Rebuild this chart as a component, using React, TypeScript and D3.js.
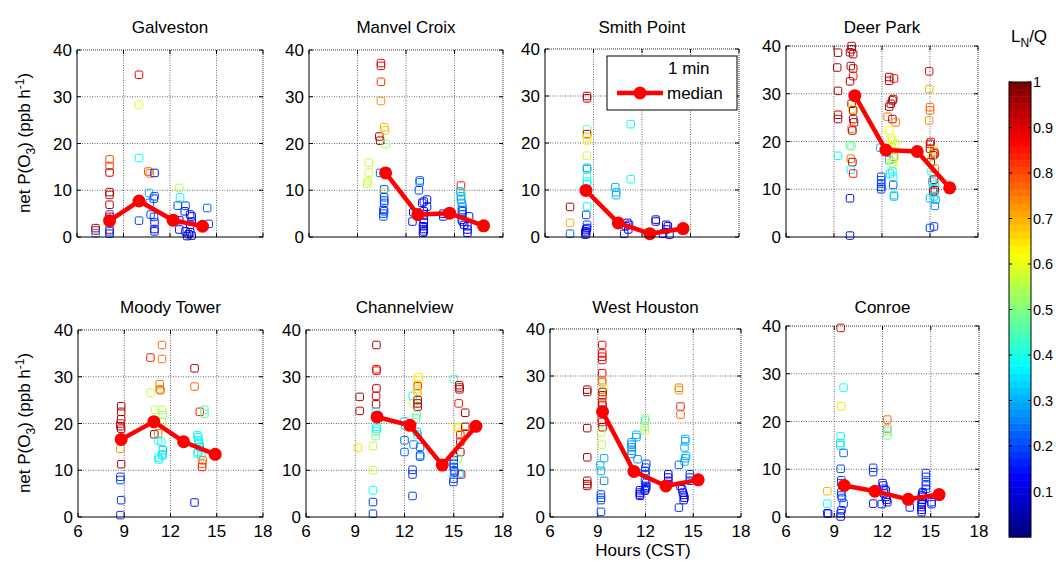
import React from "react";
import * as d3 from "d3";

// ---------- DATA ----------
const siteNames = ["Galveston", "Manvel Croix", "Smith Point", "Deer Park", "Moody Tower", "Channelview", "West Houston", "Conroe"];
const xTickValues = [6, 9, 12, 15, 18];
const yTickValues = [0, 10, 20, 30, 40];
const colorbarTicks = [0.1, 0.2, 0.3, 0.4, 0.5, 0.6, 0.7, 0.8, 0.9, 1];
const colorbarTickLabels = ["0.1", "0.2", "0.3", "0.4", "0.5", "0.6", "0.7", "0.8", "0.9", "1"];
const legendLabels = ["1 min", "median"];

// [hour, netPO3, LN/Q]
const galvestonPts = [
  [7.2, 1.9, 0.95], [7.2, 1.4, 0.95], [7.2, 0.8, 0.25],
  [8.1, 16.6, 0.8], [8.1, 15.2, 0.82], [8.1, 13.8, 0.95], [8.1, 9.6, 0.95], [8.1, 9.0, 0.95], [8.1, 6.9, 0.95], [8.1, 4.8, 0.2], [8.1, 4.3, 0.95], [8.1, 3.3, 0.65], [8.1, 1.6, 0.95], [8.1, 1.2, 0.2], [8.1, 0.7, 0.15],
  [10.0, 34.7, 0.88], [10.0, 28.3, 0.58], [10.0, 16.9, 0.38], [10.0, 3.5, 0.2],
  [10.6, 14.0, 0.8], [10.7, 13.6, 0.76], [11.0, 13.7, 0.15], [10.65, 9.4, 0.32], [11.0, 8.7, 0.2], [10.95, 8.2, 0.2], [10.7, 7.3, 0.22], [10.75, 4.8, 0.2], [10.97, 4.3, 0.2], [11.0, 3.1, 0.15], [11.0, 1.7, 0.15], [11.0, 1.2, 0.15],
  [12.6, 10.5, 0.55], [12.65, 8.5, 0.38], [12.5, 6.7, 0.2], [13.0, 6.7, 0.2], [12.95, 5.5, 0.15], [13.3, 4.8, 0.1], [13.4, 4.4, 0.1], [12.6, 3.6, 0.15], [13.4, 3.3, 0.1], [13.3, 2.6, 0.1], [12.6, 1.6, 0.15], [13.0, 1.2, 0.1], [13.2, 0.6, 0.1], [13.4, 0.3, 0.08], [13.1, 0.2, 0.08], [13.3, 1.0, 0.1],
  [14.4, 6.2, 0.22], [14.5, 2.8, 0.2],
];
const galvestonMed = [[8.1, 3.5], [10.0, 7.7], [12.2, 3.6], [14.1, 2.3]];

const manvelPts = [
  [10.45, 37.2, 0.88], [10.45, 36.6, 0.88], [10.45, 33.2, 0.82], [10.45, 29.1, 0.72], [10.35, 21.5, 0.95], [10.4, 20.6, 0.95], [10.65, 23.5, 0.7], [10.7, 22.8, 0.68], [10.75, 19.9, 0.52],
  [9.7, 15.9, 0.57], [9.7, 13.8, 0.57], [9.65, 11.9, 0.57], [9.6, 11.4, 0.57],
  [10.4, 13.7, 0.22],
  [10.65, 10.2, 0.2], [10.6, 9.5, 0.55], [10.65, 8.5, 0.2], [10.65, 7.8, 0.2], [10.65, 7.3, 0.2], [10.6, 5.8, 0.2], [10.65, 5.5, 0.2], [10.6, 5.0, 0.2], [10.6, 4.4, 0.2],
  [12.85, 12.1, 0.22], [12.85, 11.7, 0.22], [12.8, 10.0, 0.2],
  [12.4, 3.3, 0.15], [12.45, 5.3, 0.15],
  [13.3, 8.0, 0.15], [13.1, 7.6, 0.15], [13.0, 7.3, 0.15], [13.3, 6.5, 0.15], [13.1, 5.5, 0.15], [13.1, 4.8, 0.12], [13.1, 3.7, 0.12], [13.1, 3.0, 0.1], [13.05, 2.3, 0.1], [13.1, 1.7, 0.1], [13.1, 1.2, 0.1], [13.05, 0.9, 0.1],
  [14.3, 5.0, 0.15], [14.3, 4.4, 0.15],
  [15.4, 11.0, 0.85], [15.45, 9.5, 0.5], [15.35, 9.75, 0.3], [15.4, 8.7, 0.3], [15.4, 8.0, 0.28], [15.45, 7.3, 0.3], [15.5, 6.5, 0.28], [15.45, 5.8, 0.22], [15.5, 5.5, 0.2], [15.5, 4.8, 0.2], [15.45, 3.7, 0.15], [15.5, 3.3, 0.15], [15.6, 2.6, 0.12], [15.8, 2.3, 0.15], [15.8, 1.6, 0.12], [15.8, 0.9, 0.12], [15.9, 4.4, 0.15],
];
const manvelMed = [[10.74, 13.7], [12.74, 4.8], [14.7, 5.1], [16.8, 2.4]];

const smithPts = [
  [7.55, 6.4, 0.95], [7.55, 3.0, 0.7], [7.55, 0.7, 0.22],
  [8.6, 30.0, 0.95], [8.6, 29.5, 0.95], [8.6, 22.9, 0.48], [8.6, 21.9, 0.95], [8.6, 21.2, 0.65], [8.6, 20.5, 0.63], [8.6, 17.3, 0.57], [8.6, 14.7, 0.3], [8.6, 14.4, 0.3], [8.6, 12.7, 0.45], [8.6, 11.8, 0.38], [8.6, 11.3, 0.36], [8.6, 9.9, 0.38], [8.6, 6.5, 0.36], [8.55, 4.7, 0.2], [8.6, 2.6, 0.2], [8.6, 1.9, 0.15], [8.55, 1.6, 0.12], [8.5, 1.2, 0.12], [8.55, 0.8, 0.1], [8.5, 0.5, 0.1],
  [10.35, 10.6, 0.3], [10.4, 9.5, 0.3], [10.4, 8.9, 0.3],
  [11.3, 24.0, 0.38], [11.3, 12.3, 0.38],
  [11.1, 3.0, 0.1], [11.2, 2.6, 0.1], [11.0, 2.3, 0.1], [11.15, 1.6, 0.1], [10.9, 0.7, 0.15],
  [12.85, 3.7, 0.1], [12.85, 3.3, 0.1],
  [13.5, 2.6, 0.1], [13.6, 2.3, 0.1], [13.5, 1.6, 0.1], [13.3, 0.7, 0.12], [13.7, 0.5, 0.12],
];
const smithMed = [[8.53, 9.9], [10.53, 3.0], [12.48, 0.7], [14.54, 1.8]];

const deerPts = [
  [9.25, 38.6, 0.95], [9.2, 35.5, 0.95], [9.25, 30.6, 0.95], [9.25, 25.6, 0.95], [9.25, 24.7, 0.95], [9.25, 17.0, 0.38],
  [10.1, 40.0, 0.95], [10.1, 39.3, 0.95], [10.0, 38.7, 0.95], [10.2, 38.3, 0.95], [10.05, 35.8, 0.95], [10.2, 35.3, 0.95], [10.2, 33.7, 0.85], [10.0, 32.6, 0.95], [10.1, 27.9, 0.95], [10.15, 26.8, 0.65], [10.2, 26.5, 0.95], [10.2, 24.7, 0.95], [10.25, 24.0, 0.95], [10.1, 22.7, 0.75], [10.15, 22.3, 0.95], [10.0, 19.2, 0.45], [10.1, 19.0, 0.5], [10.05, 16.4, 0.75], [10.15, 15.7, 0.95], [10.05, 14.1, 0.38], [10.2, 13.3, 0.85], [10.0, 8.1, 0.15], [10.0, 0.3, 0.15],
  [12.45, 33.5, 0.95], [12.45, 32.7, 0.95], [12.75, 33.2, 0.88], [12.7, 28.9, 0.95], [12.65, 28.6, 0.95], [12.45, 27.3, 0.95], [12.55, 27.9, 0.95], [12.35, 25.2, 0.75], [12.65, 24.7, 0.95], [12.85, 24.0, 0.75], [12.45, 22.3, 0.62], [12.55, 20.6, 0.58], [12.65, 20.2, 0.6], [12.85, 19.5, 0.55], [12.6, 18.8, 0.65], [12.75, 16.8, 0.75], [12.7, 16.4, 0.5], [12.45, 16.1, 0.32], [12.6, 15.6, 0.55], [12.7, 15.4, 0.6], [12.65, 13.7, 0.38], [12.5, 13.3, 0.35], [12.7, 12.6, 0.38], [12.7, 10.9, 0.22], [12.75, 8.8, 0.35], [12.75, 8.5, 0.3],
  [11.95, 12.6, 0.2], [11.95, 11.9, 0.2], [11.95, 11.2, 0.2], [11.95, 10.5, 0.18], [11.95, 10.0, 0.18], [11.9, 18.7, 0.3],
  [14.95, 34.7, 0.88], [14.95, 31.0, 0.7], [15.0, 27.2, 0.78], [15.0, 26.5, 0.78], [14.95, 24.4, 0.72], [15.05, 19.9, 0.88], [15.0, 19.5, 0.95], [15.0, 18.5, 0.95], [15.2, 18.2, 0.65], [15.25, 17.8, 0.75], [15.3, 17.5, 0.88], [15.2, 17.1, 0.95], [15.1, 16.8, 0.55], [15.05, 15.7, 0.95], [15.3, 14.3, 0.75], [15.1, 13.7, 0.38], [15.25, 12.0, 0.95], [15.15, 11.6, 0.3], [15.3, 11.0, 0.4], [15.2, 10.2, 0.38], [15.3, 9.8, 0.95], [15.2, 9.5, 0.95], [15.25, 8.5, 0.35], [15.0, 8.1, 0.32], [15.35, 7.8, 0.3], [15.3, 6.5, 0.25], [15.0, 1.9, 0.18], [15.25, 2.2, 0.18],
];
const deerMed = [[10.3, 29.6], [12.24, 18.2], [14.2, 17.9], [16.23, 10.3]];

const moodyPts = [
  [8.8, 23.7, 0.95], [8.8, 22.5, 0.95], [8.8, 20.9, 0.95], [8.75, 20.0, 0.88], [8.75, 19.4, 0.95], [8.8, 18.9, 0.95], [8.75, 14.6, 0.72], [8.8, 11.3, 0.95], [8.75, 8.6, 0.2], [8.75, 7.9, 0.2], [8.8, 3.6, 0.18], [8.75, 0.4, 0.18],
  [10.7, 34.1, 0.85], [10.7, 26.6, 0.57], [10.95, 17.7, 0.95], [11.0, 22.9, 0.57],
  [11.45, 36.8, 0.78], [11.45, 33.8, 0.76], [11.3, 28.4, 0.76], [11.3, 27.3, 0.76], [11.35, 27.1, 0.75], [11.45, 22.9, 0.55], [11.5, 21.8, 0.5], [11.45, 20.4, 0.55], [11.2, 17.9, 0.75], [11.2, 16.4, 0.4], [11.4, 16.1, 0.4], [11.5, 14.3, 0.32], [11.45, 13.4, 0.38], [11.5, 13.2, 0.35], [11.2, 12.7, 0.38], [11.25, 12.3, 0.36],
  [13.56, 31.8, 0.95], [13.56, 27.9, 0.77], [13.56, 3.1, 0.15],
  [13.9, 22.5, 0.85], [14.2, 22.9, 0.45], [14.2, 22.1, 0.47], [13.75, 17.5, 0.38], [13.8, 17.1, 0.36], [13.8, 16.4, 0.38], [13.85, 16.1, 0.4], [13.85, 15.7, 0.38], [13.9, 15.0, 0.32], [13.8, 13.9, 0.38], [13.75, 13.6, 0.38], [14.0, 13.2, 0.4], [14.1, 12.1, 0.75], [14.05, 11.4, 0.78], [14.05, 10.7, 0.85],
];
const moodyMed = [[8.8, 16.6], [10.92, 20.4], [12.85, 16.1], [14.9, 13.4]];

const channelPts = [
  [9.27, 25.7, 0.95], [9.27, 22.7, 0.95], [9.16, 14.8, 0.65],
  [10.08, 15.2, 0.55], [10.08, 10.0, 0.57], [10.08, 5.7, 0.38], [10.08, 3.2, 0.18], [10.08, 0.7, 0.18],
  [10.29, 36.8, 0.95], [10.29, 31.6, 0.85], [10.3, 31.3, 0.88], [10.29, 27.5, 0.95], [10.27, 25.9, 0.9], [10.27, 24.1, 0.95], [10.25, 22.5, 0.38], [10.27, 21.1, 0.3], [10.3, 19.3, 0.38], [10.3, 18.9, 0.38], [10.27, 18.4, 0.38], [10.25, 17.3, 0.5],
  [12.0, 20.4, 0.3], [12.05, 19.6, 0.3], [12.0, 16.4, 0.22], [12.0, 13.9, 0.22],
  [12.49, 10.1, 0.18], [12.49, 9.1, 0.18], [12.49, 4.5, 0.18],
  [12.5, 25.9, 0.38], [12.55, 24.3, 0.55], [12.85, 29.9, 0.65], [12.85, 29.3, 0.62], [12.8, 28.0, 0.85], [12.75, 27.3, 0.65], [12.8, 26.8, 0.68], [12.8, 25.0, 0.95], [12.8, 24.3, 0.95], [12.8, 23.6, 0.95], [12.75, 21.8, 0.5], [12.7, 21.1, 0.45], [12.75, 18.2, 0.32], [12.8, 17.6, 0.35], [12.55, 15.5, 0.25], [12.95, 15.0, 0.22], [12.95, 13.2, 0.22], [12.95, 12.9, 0.22],
  [15.0, 29.5, 0.45], [15.0, 12.9, 0.2], [15.0, 12.1, 0.2], [15.0, 11.4, 0.2], [15.0, 10.7, 0.2], [15.02, 10.0, 0.22], [15.05, 9.5, 0.2], [14.98, 7.5, 0.18], [15.0, 8.2, 0.2], [15.25, 19.1, 0.65],
  [15.33, 28.2, 0.95], [15.35, 27.7, 0.95], [15.35, 27.3, 0.95], [15.3, 24.3, 0.85], [15.3, 19.3, 0.65], [15.4, 17.5, 0.85], [15.4, 16.1, 0.88], [15.4, 13.9, 0.95], [15.25, 12.5, 0.5], [15.45, 9.1, 0.95], [15.35, 9.3, 0.3],
  [15.7, 22.3, 0.95], [15.7, 19.3, 0.95], [15.7, 17.9, 0.75],
];
const channelMed = [[10.33, 21.4], [12.33, 19.6], [14.3, 11.1], [16.35, 19.4]];

const westPts = [
  [8.34, 27.1, 0.95], [8.34, 26.6, 0.95], [8.34, 18.9, 0.95], [8.34, 12.7, 0.95], [8.34, 7.7, 0.95], [8.34, 7.0, 0.95], [8.34, 6.6, 0.95],
  [9.28, 36.6, 0.88], [9.28, 34.8, 0.88], [9.28, 34.1, 0.88], [9.28, 33.4, 0.88], [9.28, 30.6, 0.88], [9.28, 29.1, 0.75], [9.28, 28.7, 0.75], [9.4, 27.3, 0.57], [9.3, 26.6, 0.95], [9.3, 25.9, 0.95], [9.28, 25.5, 0.75], [9.28, 24.4, 0.88], [9.3, 23.7, 0.95], [9.25, 20.7, 0.85], [9.28, 20.2, 0.85], [9.3, 19.1, 0.95], [9.2, 18.0, 0.55], [9.25, 15.4, 0.55], [9.4, 12.5, 0.3], [9.15, 11.0, 0.3], [9.2, 9.8, 0.3], [9.4, 7.7, 0.25], [9.2, 4.8, 0.2], [9.2, 4.1, 0.2], [9.2, 3.6, 0.2], [9.2, 1.1, 0.2],
  [11.13, 15.9, 0.28], [11.13, 15.4, 0.28], [11.13, 14.8, 0.28], [11.13, 14.1, 0.28], [11.13, 13.4, 0.28],
  [11.43, 17.5, 0.3], [11.43, 17.0, 0.3], [11.5, 12.3, 0.28],
  [11.65, 5.7, 0.1], [11.65, 5.2, 0.1], [11.65, 4.8, 0.1], [11.65, 4.5, 0.1],
  [11.97, 20.9, 0.5], [11.97, 20.5, 0.45], [11.95, 19.2, 0.52], [11.95, 18.4, 0.55], [12.05, 11.3, 0.2], [12.0, 10.5, 0.2], [11.97, 9.8, 0.18], [12.0, 9.1, 0.18], [11.97, 7.7, 0.18], [12.05, 7.3, 0.18], [12.0, 6.6, 0.15], [12.05, 6.3, 0.15], [12.0, 5.9, 0.15], [11.95, 5.6, 0.15],
  [13.43, 9.1, 0.12], [13.43, 8.4, 0.12], [13.43, 7.7, 0.12], [13.43, 7.0, 0.12],
  [14.1, 27.5, 0.75], [14.1, 27.0, 0.72], [14.2, 23.5, 0.85], [14.2, 21.8, 0.78], [14.5, 16.6, 0.3], [14.5, 16.1, 0.3], [14.45, 14.8, 0.3], [14.55, 13.0, 0.3], [14.5, 12.5, 0.3], [14.45, 11.8, 0.3], [14.1, 11.1, 0.22], [14.2, 6.6, 0.15], [14.3, 5.9, 0.15], [14.35, 5.2, 0.12], [14.4, 4.7, 0.12], [14.45, 4.1, 0.1], [14.4, 3.6, 0.1], [14.1, 2.0, 0.18],
  [14.79, 9.1, 0.18], [14.79, 8.4, 0.18], [14.8, 7.7, 0.18],
];
const westMed = [[9.3, 22.4], [11.27, 9.7], [13.28, 6.6], [15.31, 7.9]];

const conroePts = [
  [8.57, 5.4, 0.7], [8.57, 2.8, 0.38], [8.57, 0.8, 0.15], [8.62, 0.7, 0.15],
  [9.4, 39.6, 0.88], [9.58, 27.1, 0.38], [9.44, 23.2, 0.65], [9.4, 16.9, 0.38], [9.38, 15.5, 0.35], [9.38, 15.0, 0.35], [9.58, 13.4, 0.22], [9.4, 10.1, 0.2], [9.44, 7.7, 0.2], [9.44, 7.1, 0.2], [9.44, 5.2, 0.2], [9.44, 4.5, 0.2], [9.48, 4.0, 0.2], [9.58, 2.8, 0.2], [9.45, 1.4, 0.15], [9.4, 0.8, 0.15], [9.4, 0.1, 0.15],
  [11.42, 10.3, 0.18], [11.42, 9.4, 0.18], [11.42, 2.8, 0.15],
  [12.0, 7.1, 0.15], [12.05, 6.6, 0.15], [12.1, 5.9, 0.15], [12.2, 5.6, 0.15], [12.1, 4.9, 0.15], [12.2, 4.2, 0.12], [12.25, 3.6, 0.12], [12.3, 3.1, 0.12], [11.95, 2.7, 0.15],
  [12.3, 20.4, 0.78], [12.3, 18.5, 0.75], [12.3, 18.0, 0.45], [12.3, 17.1, 0.48],
  [13.7, 2.0, 0.15],
  [14.7, 9.2, 0.18], [14.7, 8.4, 0.18], [14.7, 7.3, 0.18], [14.7, 6.6, 0.18], [14.7, 5.9, 0.18], [14.5, 5.2, 0.15], [14.5, 4.9, 0.12], [14.45, 4.5, 0.12], [14.5, 4.2, 0.12], [14.5, 3.6, 0.12], [14.45, 3.1, 0.12], [14.43, 2.7, 0.12], [14.43, 2.1, 0.12], [14.43, 1.5, 0.12], [14.43, 1.0, 0.12], [15.05, 3.1, 0.15], [15.05, 2.7, 0.15],
];
const conroeMed = [[9.62, 6.6], [11.53, 5.4], [13.6, 3.7], [15.52, 4.7]];

const sitePoints = [galvestonPts, manvelPts, smithPts, deerPts, moodyPts, channelPts, westPts, conroePts];
const siteMedians = [galvestonMed, manvelMed, smithMed, deerMed, moodyMed, channelMed, westMed, conroeMed];

// ---------- LAYOUT ----------
const W = 1056, H = 561;
const frames = [
  { l: 77, r: 263, t: 50, b: 237 },
  { l: 309, r: 503, t: 50, b: 237 },
  { l: 545, r: 739, t: 49, b: 237 },
  { l: 786, r: 978, t: 46, b: 237 },
  { l: 78, r: 263, t: 330, b: 517 },
  { l: 306, r: 503, t: 330, b: 517 },
  { l: 550, r: 741, t: 329, b: 517 },
  { l: 786, r: 979, t: 326, b: 517 },
];
const FONT = "'Liberation Sans', Arial, Helvetica, sans-serif";
const FS = 17;

function jet(v: number): string {
  const idx = Math.max(0, Math.min(63, Math.floor(v * 64)));
  const t = idx / 63;
  const c = (x: number) => Math.max(0, Math.min(1, x));
  const r = c(Math.min(4 * t - 1.5, -4 * t + 4.5));
  const g = c(Math.min(4 * t - 0.5, -4 * t + 3.5));
  const b = c(Math.min(4 * t + 0.5, -4 * t + 2.5));
  return d3.rgb(r * 255, g * 255, b * 255).formatHex();
}

function Panel({ i }: { i: number }) {
  const f = frames[i];
  const x = d3.scaleLinear().domain([6, 18]).range([f.l, f.r]);
  const y = d3.scaleLinear().domain([0, 40]).range([f.b, f.t]);
  const pts = sitePoints[i];
  const med = siteMedians[i];
  const line = d3.line<number[]>().x((d) => x(d[0])).y((d) => y(d[1]));
  const bottomRow = i >= 4;
  const s = 7.5;
  const tk = 4;
  return (
    <g>
      <rect x={f.l} y={f.t} width={f.r - f.l} height={f.b - f.t} fill="#fff" />
      {xTickValues.slice(1, -1).map((v) => (
        <line key={"gx" + v} x1={x(v)} x2={x(v)} y1={f.t} y2={f.b} stroke="#444" strokeWidth={0.8} strokeDasharray="1,1.5" />
      ))}
      {yTickValues.slice(1, -1).map((v) => (
        <line key={"gy" + v} x1={f.l} x2={f.r} y1={y(v)} y2={y(v)} stroke="#444" strokeWidth={0.8} strokeDasharray="1,1.5" />
      ))}
      {xTickValues.map((v) => (
        <g key={"tx" + v}>
          <line x1={x(v)} x2={x(v)} y1={f.b} y2={f.b - tk} stroke="#000" />
          <line x1={x(v)} x2={x(v)} y1={f.t} y2={f.t + tk} stroke="#000" />
        </g>
      ))}
      {yTickValues.map((v) => (
        <g key={"ty" + v}>
          <line x1={f.l} x2={f.l + tk} y1={y(v)} y2={y(v)} stroke="#000" />
          <line x1={f.r} x2={f.r - tk} y1={y(v)} y2={y(v)} stroke="#000" />
          <text x={f.l - 5} y={y(v) + 6} textAnchor="end" fontSize={FS} fontFamily={FONT} fill="#000">{v}</text>
        </g>
      ))}
      {bottomRow && xTickValues.map((v) => (
        <text key={"lx" + v} x={x(v)} y={f.b + 20} textAnchor="middle" fontSize={FS} fontFamily={FONT} fill="#000">{v}</text>
      ))}
      {pts.map((p, k) => (
        <rect key={k} x={x(p[0]) - s / 2} y={y(p[1]) - s / 2} width={s} height={s} rx={1.5} fill="none" stroke={jet(p[2])} strokeWidth={1} />
      ))}
      <path d={line(med) || ""} fill="none" stroke="#ff0000" strokeWidth={4.5} strokeLinejoin="round" />
      {med.map((m, k) => (
        <circle key={"m" + k} cx={x(m[0])} cy={y(m[1])} r={6.5} fill="#ff0000" />
      ))}
      <line x1={f.l} x2={f.l} y1={f.t} y2={f.b} stroke="#000" strokeWidth={1} />
      <line x1={f.l} x2={f.r} y1={f.b} y2={f.b} stroke="#000" strokeWidth={1} />
      <line x1={f.r} x2={f.r} y1={f.t} y2={f.b} stroke="#000" strokeWidth={0.8} strokeDasharray="1,1" />
      <line x1={f.l} x2={f.r} y1={f.t} y2={f.t} stroke="#000" strokeWidth={0.8} strokeDasharray="1,1" />
      <text x={(f.l + f.r) / 2} y={bottomRow ? 313 : 33} textAnchor="middle" fontSize={FS} fontFamily={FONT} fill="#000">{siteNames[i]}</text>
    </g>
  );
}

function YLabel({ cy }: { cy: number }) {
  return (
    <text transform={`translate(30,${cy}) rotate(-90)`} textAnchor="middle" fontSize={FS} fontFamily={FONT} fill="#000">
      <tspan>net P(O</tspan>
      <tspan fontSize={12} dy={5}>3</tspan>
      <tspan dy={-5}>) (ppb h</tspan>
      <tspan fontSize={12} dy={-6}>-1</tspan>
      <tspan dy={6}>)</tspan>
    </text>
  );
}

function Colorbar() {
  const cb = { l: 1009, r: 1031, t: 82, b: 537 };
  const c = d3.scaleLinear().domain([0, 1]).range([cb.b, cb.t]);
  const levels = d3.range(64);
  const h = (cb.b - cb.t) / 64;
  return (
    <g>
      {levels.map((k) => (
        <rect key={k} x={cb.l} y={c((k + 1) / 64)} width={cb.r - cb.l} height={h + 0.5} fill={jet((k + 0.5) / 64)} />
      ))}
      <rect x={cb.l} y={cb.t} width={cb.r - cb.l} height={cb.b - cb.t} fill="none" stroke="#000" strokeWidth={1} />
      {colorbarTicks.map((v, k) => (
        <g key={k}>
          <line x1={cb.l} x2={cb.l + 3} y1={c(v)} y2={c(v)} stroke="#000" />
          <line x1={cb.r} x2={cb.r - 3} y1={c(v)} y2={c(v)} stroke="#000" />
          <text x={cb.r + 2} y={c(v) + 5} fontSize={14.5} fontFamily={FONT} fill="#000">{colorbarTickLabels[k]}</text>
        </g>
      ))}
      <text x={1011} y={42} fontSize={FS} fontFamily={FONT} fill="#000">
        <tspan>L</tspan>
        <tspan fontSize={12} dy={5}>N</tspan>
        <tspan dy={-5}>/Q</tspan>
      </text>
    </g>
  );
}

function Legend() {
  const bx = 607, by = 56, bw = 130, bh = 54;
  return (
    <g>
      <rect x={bx} y={by} width={bw} height={bh} fill="#fff" stroke="#000" strokeWidth={1} />
      <text x={668} y={74} fontSize={FS} fontFamily={FONT} fill="#000">{legendLabels[0]}</text>
      <line x1={617} x2={663} y1={93} y2={93} stroke="#ff0000" strokeWidth={4.5} />
      <circle cx={640} cy={93} r={6.5} fill="#ff0000" />
      <text x={667} y={99} fontSize={FS} fontFamily={FONT} fill="#000">{legendLabels[1]}</text>
    </g>
  );
}

export default function App() {
  return (
    <svg width={W} height={H} style={{ position: "absolute", left: 0, top: 0, background: "#fff" }}>
      <rect width={W} height={H} fill="#fff" />
      {siteNames.map((_, i) => <Panel key={i} i={i} />)}
      <YLabel cy={143} />
      <YLabel cy={423} />
      <Legend />
      <Colorbar />
      <text x={643} y={556} textAnchor="middle" fontSize={FS} fontFamily={FONT} fill="#000">Hours  (CST)</text>
    </svg>
  );
}
